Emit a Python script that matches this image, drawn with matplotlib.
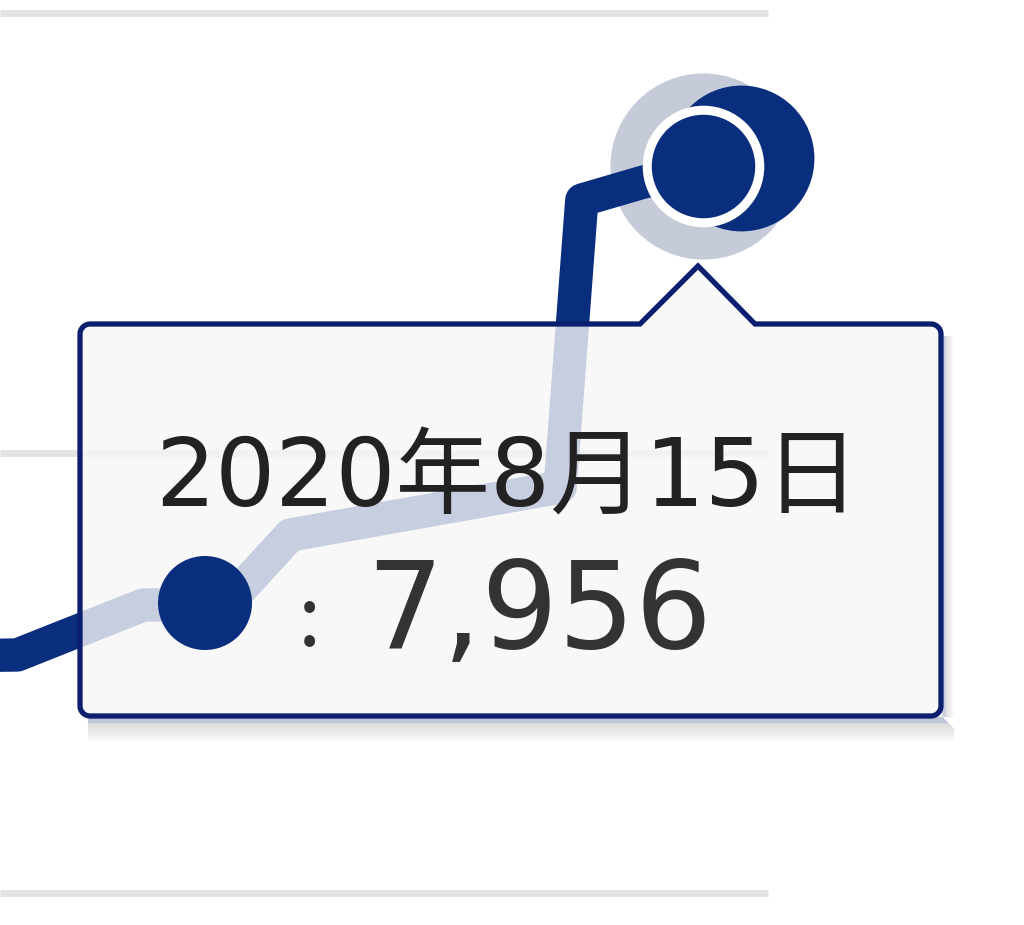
import numpy as np
import matplotlib
matplotlib.use("Agg")
import matplotlib.pyplot as plt
import matplotlib.transforms as mtransforms
from matplotlib.patches import Polygon, Circle
from matplotlib.lines import Line2D

# data (days relative to 2020-08-15, daily value)
days = [-12.0, -11.43, -9.33, -7.95, -6.88, -2.38, -2.02, -1.05, 0.0]
values = [4620, 4623, 4964, 4964, 5441, 5768, 7725, 7841, 7956]
grid_values = [3000, 6000, 9000]
hover_label = "2020年8月15日"
hover_value = 7956

NAVY = "#0a2e7e"
BORDER = "#0b1f6e"
HALO = "#c5cbd9"


def tooltip_shape(x0, y0, x1, y1, r, notch):
    # rounded box with a pointer on top, in pixel coords (y down)
    nx0, ntip, nx1, ny = notch
    pts = [(x0 + r, y0), (nx0, y0), (ntip, ny), (nx1, y0)]

    def arc(cx, cy, a0, a1):
        t = np.radians(np.linspace(a0, a1, 8))
        return [(cx + r * np.cos(a), cy + r * np.sin(a)) for a in t]

    pts += arc(x1 - r, y0 + r, -90, 0)
    pts += arc(x1 - r, y1 - r, 0, 90)
    pts += arc(x0 + r, y1 - r, 90, 180)
    pts += arc(x0 + r, y0 + r, 180, 270)
    return pts


fig = plt.figure(figsize=(10.24, 9.25), dpi=100)
ax = fig.add_axes([0, 0, 1, 1])
ax.axis("off")
ax.set_xlim(-703 / 60, 321 / 60)
ax.set_ylim(2782, 9089)

# pixel transform, origin top-left
pix = mtransforms.Affine2D().scale(1 / 1024, -1 / 925).translate(0, 1) + fig.transFigure

ax.hlines(grid_values, -703 / 60, 1.08, color="#e3e3e3", lw=5, zorder=0)

# hover rings on the last point
ax.plot(days[-1], values[-1], "o", ms=133, color=HALO, zorder=1)
ring = mtransforms.offset_copy(ax.transData, fig=fig, x=38, y=8, units="dots")
ax.plot(days[-1], values[-1], "o", ms=104, color=NAVY, transform=ring, zorder=2)

ax.plot(days, values, color=NAVY, lw=24, solid_joinstyle="round",
        solid_capstyle="butt", zorder=3)
ax.plot(days[-1], values[-1], "o", ms=81, color=NAVY, mec="white", mew=6.5, zorder=4)

# tooltip shadow (outside the box only)
x0, y0, x1, y1 = 80, 324, 941, 716
for i in range(1, 26):
    if i <= 6:
        c, a = "#aab4c9", 0.75
    else:
        c, a = "#9a9a9a", 0.35 * (1 - (i - 6) / 20)
    fig.lines.append(Line2D([x0 + 8, x1 + min(i, 12)], [y1 + i, y1 + i], color=c,
                            alpha=a, lw=0.75, transform=pix, zorder=5))
for i in range(1, 13):
    c, a = ("#aab4c9", 0.6) if i <= 4 else ("#9a9a9a", 0.3 * (1 - (i - 4) / 9))
    fig.lines.append(Line2D([x1 + i, x1 + i], [y0 + 12, y1], color=c,
                            alpha=a, lw=0.75, transform=pix, zorder=5))

shape = tooltip_shape(x0, y0, x1, y1, 10, (640, 698, 755, 266))
fig.patches.append(Polygon(shape, closed=True, fc=(0.969, 0.969, 0.973, 0.8),
                           ec=BORDER, lw=3.8, transform=pix, zorder=6))
fig.patches.append(Circle((205, 603), 47, fc=NAVY, ec="none", transform=pix, zorder=7))

fig.text(155, 507, hover_label, transform=pix, fontsize=68, color="#222222",
         family=["DejaVu Sans", "Noto Sans CJK JP"], va="baseline", zorder=8)
fig.text(310, 646, ":", transform=pix, fontsize=60, color="#333333",
         family=["Noto Sans CJK JP", "DejaVu Sans"], ha="center", va="baseline", zorder=8)
fig.text(366, 648, f"{hover_value:,}", transform=pix, fontsize=87, color="#333333",
         family="DejaVu Sans", va="baseline", zorder=8)

fig.savefig("out.png", dpi=100)
